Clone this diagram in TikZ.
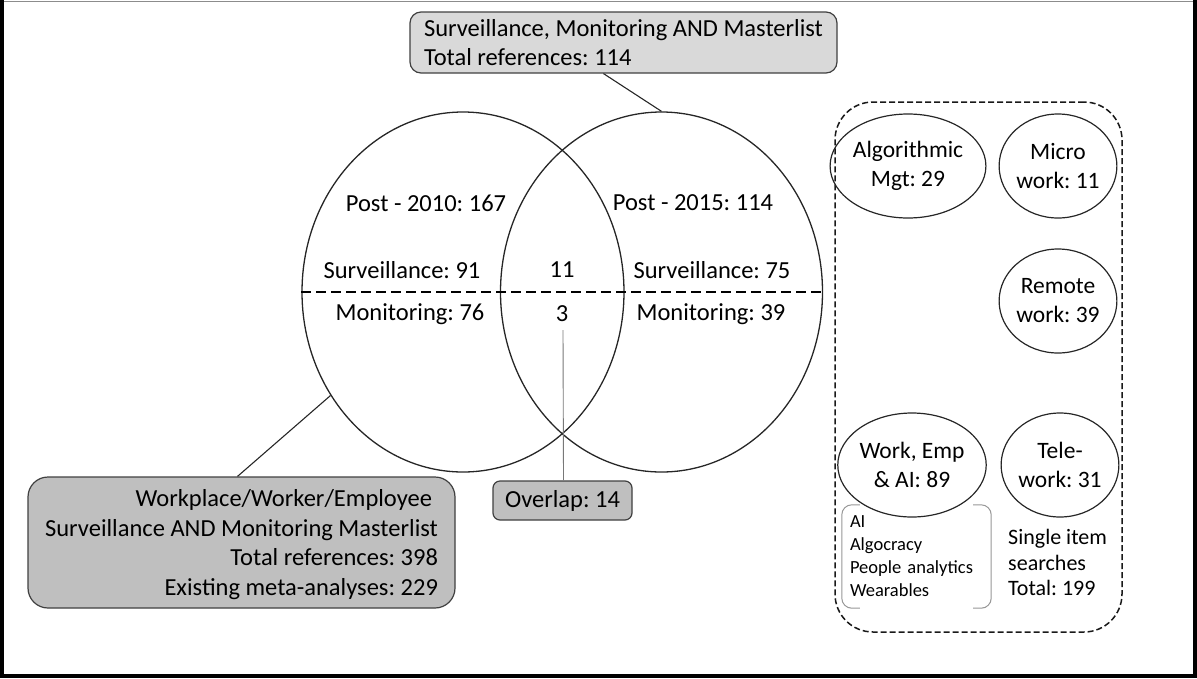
\documentclass[tikz,border=0pt]{standalone}
\usepackage{fontspec}
\setmainfont{Carlito}
\frenchspacing
\usepackage{xcolor}
\definecolor{boxlight}{RGB}{217,217,217}
\definecolor{boxmid}{RGB}{191,191,191}
\definecolor{edgegray}{RGB}{64,64,64}
\definecolor{brkgray}{RGB}{150,150,150}
\definecolor{pingray}{RGB}{120,120,120}
\usepackage{tikz}
\usetikzlibrary{shapes.geometric, positioning}
\newcommand{\fsmain}{\fontsize{24.5}{29.5}\selectfont}
\newcommand{\fscirc}{\fontsize{23.5}{29}\selectfont}
\newcommand{\fslist}{\fontsize{18.5}{23}\selectfont}
\newcommand{\fssingle}{\fontsize{22}{25.5}\selectfont}
\tikzset{
  callout/.style={draw=edgegray, line width=1.2pt, rounded corners=11pt,
    font=\fsmain, inner ysep=0pt},
  venn/.style={ellipse, draw=black!85, line width=1.3pt, inner sep=0pt,
    minimum width=322pt, minimum height=360pt},
  vlabel/.style={font=\fsmain, inner sep=8pt},
  topic/.style={ellipse, draw=black!85, line width=1.2pt, inner sep=0pt,
    minimum width=111pt, minimum height=104pt, align=center, font=\fscirc},
  divider/.style={line width=2.8pt, dash pattern=on 10pt off 5pt},
  panel/.style={draw=black!90, line width=1.5pt, dash pattern=on 6pt off 3pt,
    rounded corners=38pt, minimum width=287pt, minimum height=530pt},
  pointer/.style={line width=1.1pt, draw=black!85},
  pin/.style={line width=0.9pt, draw=pingray},
  brk/.style={line width=1pt, draw=brkgray, rounded corners=10pt}
}
\begin{document}
\begin{tikzpicture}[x=1pt, y=-1pt]
  \useasboundingbox (0,0) rectangle (1197,678);

  % frame
  \draw[line width=1.2pt, black!45] (0,1.2) -- (1197,1.2);
  \draw[line width=4pt] (2,0) -- (2,678);
  \draw[line width=4pt] (1195,0) -- (1195,678);
  \draw[line width=3.5pt] (0,676.2) -- (1197,676.2);

  % venn
  \node[venn] (venL) at (463,292) {};
  \node[venn] (venR) at (661.5,292) {};
  \draw[divider] (venL.west) -- (venR.east);

  \node[vlabel] (post2010) at (426,203) {Post - 2010: 167};
  \node[vlabel] (post2015) at (693,203) {Post - 2015: 114};
  \node[vlabel] (survL) at (402,270) {Surveillance: 91};
  \node[vlabel] (survM) at (562,270) {11};
  \node[vlabel] (survR) at (712,270) {Surveillance: 75};
  \node[vlabel] (monL) at (410,314) {Monitoring: 76};
  \node[vlabel] (monM) at (562,314) {3};
  \node[vlabel] (monR) at (711,314) {Monitoring: 39};

  % callouts
  \node[callout, fill=boxlight, minimum width=427pt, minimum height=61pt,
    inner xsep=0pt, text depth=-9pt, align=left] (topbox) at (623.5,42.5)
    {Surveillance, Monitoring AND Masterlist\\Total references: 114};

  \node[callout, fill=boxmid, rounded corners=20pt, minimum width=427pt,
    minimum height=131pt, inner xsep=0pt, text depth=-6pt, align=right]
    (mainbox) at (241.5,542.5)
    {Workplace/Worker/Employee\hspace*{6pt}\\
     Surveillance AND Monitoring Masterlist\\
     Total references: 398\\
     Existing meta-analyses: 229};

  \node[callout, fill=boxmid, rounded corners=7pt, minimum width=139pt,
    minimum height=39pt, inner xsep=0pt] (overlap) at (562.5,500.5) {Overlap: 14};

  \draw[pointer] ([xshift=-20pt]topbox.south) -- (venR.north);
  \draw[pointer] ([xshift=-4pt]mainbox.north) -- (venL.218);
  \draw[pin] ([xshift=1pt]monM.south) -- ([xshift=1pt]overlap.north);

  % single item searches
  \node[panel] (single) at (978.5,367) {};

  \node[topic] (algo) at (908,166) {Algorithmic\\Mgt: 29};
  \node[topic] (micro) at (1058,166) {Micro\\work: 11};
  \node[topic] (remote) at (1058,301) {Remote\\work: 39};
  \node[topic] (workai) at (912,465) {Work, Emp\\\& AI: 89};
  \node[topic] (tele) at (1060,465) {Tele-\\work: 31};

  \node[minimum width=149pt, minimum height=103pt, text width=133pt,
    inner xsep=8pt, inner ysep=0pt, align=left, font=\fslist] (grp) at (916.5,556.5)
    {AI\\Algocracy\\People analytics\\Wearables};
  \draw[brk] ([xshift=18pt]grp.north west) -- (grp.north west)
    -- (grp.south west) -- ([xshift=18pt]grp.south west);
  \draw[brk] ([xshift=-18pt]grp.north east) -- (grp.north east)
    -- (grp.south east) -- ([xshift=-18pt]grp.south east);

  \node[anchor=west, align=left, font=\fssingle, inner sep=0pt] (total)
    at (1008,562.5) {Single item\\searches\\Total: 199};

\end{tikzpicture}
\end{document}
